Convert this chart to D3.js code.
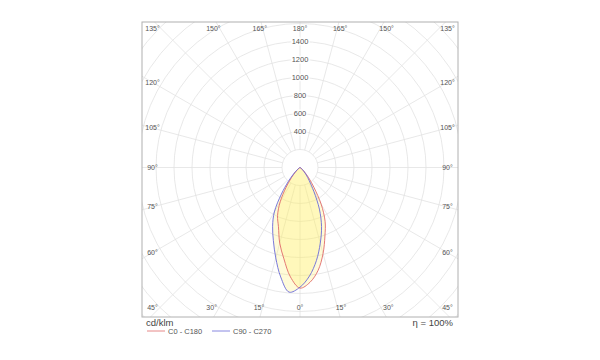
<!DOCTYPE html>
<html><head><meta charset="utf-8">
<script src="https://cdn.jsdelivr.net/npm/d3@7"></script>
<style>body{margin:0;background:#fff} svg{font-family:Arial,"Liberation Sans",sans-serif}</style>
</head><body><svg id="c" width="600" height="360"></svg>
<script>
// gamma angles (deg from nadir)
const gammas = [0,5,10,15,20,25,30,35,40,45,50,55,60,65,70,75,80,85,90];
// cd/klm
const c0   = [1340,1280,1160,990,810,660,470,270,150,75,35,15,8,4,2,1,0,0,0];
const c180 = [1340,1220,1030,870,700,590,440,270,150,75,35,15,8,4,2,1,0,0,0];
const c90  = [1330,1210,1050,870,700,510,310,180,110,60,30,15,8,4,2,1,0,0,0];
const c270 = [1330,1390,1235,1040,865,720,570,360,200,100,45,20,10,5,2,1,0,0,0];
const ringValues = [200,400,600,800,1000,1200,1400,1600,1800,2000,2200,2400];
const ringLabels = [400,600,800,1000,1200,1400];
const angleTicks = [0,15,30,45,60,75,90,105,120,135,150,165,180];
const legendNames = ["C0 - C180","C90 - C270"];
const legendColors = ["#e06a6a","#6a6ad8"];
const unitLabel = "cd/klm";
const effLabel = "η = 100%";

const svg = d3.select("#c");
const frame = {x0:142, y0:22, x1:458, y1:317};
const cx = 300, cy = 167.5;
const r = d3.scaleLinear().domain([0,1400]).range([0,126]);

svg.append("defs").append("clipPath").attr("id","fc")
  .append("rect").attr("x",frame.x0).attr("y",frame.y0)
  .attr("width",frame.x1-frame.x0).attr("height",frame.y1-frame.y0);

const g = svg.append("g").attr("clip-path","url(#fc)");
g.selectAll("circle.ring").data(ringValues).join("circle")
  .attr("cx",cx).attr("cy",cy).attr("r",d=>r(d))
  .attr("fill","none").attr("stroke","#e2e2e2").attr("stroke-width",0.8);
const spokes = d3.range(0,360,15);
g.selectAll("line.sp").data(spokes).join("line")
  .attr("x1",d=>cx+r(200)*Math.sin(d*Math.PI/180))
  .attr("y1",d=>cy+r(200)*Math.cos(d*Math.PI/180))
  .attr("x2",d=>cx+r(3000)*Math.sin(d*Math.PI/180))
  .attr("y2",d=>cy+r(3000)*Math.cos(d*Math.PI/180))
  .attr("stroke","#e2e2e2").attr("stroke-width",0.8);

svg.append("rect").attr("x",frame.x0).attr("y",frame.y0)
  .attr("width",frame.x1-frame.x0).attr("height",frame.y1-frame.y0)
  .attr("fill","none").attr("stroke","#b0b0b0").attr("stroke-width",1);

function curvePts(left,right){
  const pts=[];
  for(let i=gammas.length-1;i>=0;i--) pts.push([Math.PI+gammas[i]*Math.PI/180, r(left[i])]);
  for(let i=1;i<gammas.length;i++) pts.push([Math.PI-gammas[i]*Math.PI/180, r(right[i])]);
  return pts;
}
const line = d3.lineRadial().angle(d=>d[0]).radius(d=>d[1]).curve(d3.curveCatmullRom.alpha(0.5));
const curves = [curvePts(c180,c0), curvePts(c270,c90)];
const cg = svg.append("g").attr("transform",`translate(${cx},${cy})`);
cg.selectAll("path.f").data(curves).join("path")
  .attr("d",d=>line(d)+"Z").attr("fill","rgb(255,240,100)").attr("fill-opacity",0.25).attr("stroke","none");
cg.selectAll("path.s").data(curves).join("path")
  .attr("d",d=>line(d)+"Z").attr("fill","none")
  .attr("stroke",(d,i)=>legendColors[i]).attr("stroke-width",0.9);

svg.selectAll("text.rl").data(ringLabels).join("text")
  .attr("x",cx).attr("y",d=>cy-r(d)).attr("dy","0.35em")
  .attr("text-anchor","middle").attr("font-size",7.5).attr("fill","#555")
  .attr("stroke","#fff").attr("stroke-width",3).attr("paint-order","stroke")
  .text(d=>d);

const sideX = 147.5, rowD = 140;
function labelPos(a, sign){
  const rad = a*Math.PI/180;
  let x, y;
  if(a<=45){ y = cy+rowD; x = cx + sign*Math.min(153*Math.tan(rad), sideX); }
  else if(a>=135){ y = cy-rowD+1; x = cx + sign*Math.min(150*Math.tan(Math.PI-rad), sideX); }
  else { x = cx + sign*sideX; y = cy - sideX*Math.tan(rad-Math.PI/2); }
  return [x,y];
}
const lab = [];
angleTicks.forEach(a=>{
  lab.push({a, p:labelPos(a,-1)});
  if(a!==0 && a!==180) lab.push({a, p:labelPos(a,1)});
});
svg.selectAll("text.al").data(lab).join("text")
  .attr("x",d=>d.p[0]).attr("y",d=>d.p[1]).attr("dy","0.35em")
  .attr("text-anchor","middle").attr("font-size",7).attr("fill","#555")
  .text(d=>d.a+"°");

svg.append("text").attr("x",146).attr("y",326).attr("font-size",9.5).attr("fill","#444").text(unitLabel);
svg.append("text").attr("x",453).attr("y",326).attr("text-anchor","end").attr("font-size",9.5).attr("fill","#444").text(effLabel);
const lg = svg.selectAll("g.lg").data(legendNames).join("g")
  .attr("transform",(d,i)=>`translate(${147+i*65},331)`);
lg.append("line").attr("x1",0).attr("x2",18).attr("y1",0).attr("y2",0)
  .attr("stroke",(d,i)=>legendColors[i]).attr("stroke-width",0.8);
lg.append("text").attr("x",21).attr("y",0).attr("dy","0.35em").attr("font-size",7.5).attr("fill","#555").text(d=>d);
</script></body></html>
